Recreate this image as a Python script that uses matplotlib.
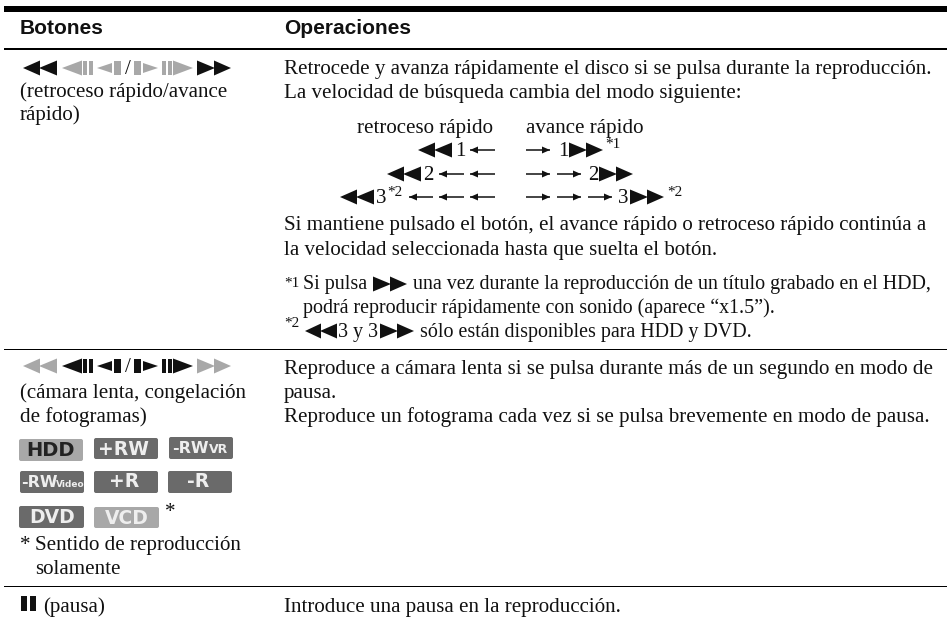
import matplotlib
matplotlib.use("Agg")
import matplotlib.pyplot as plt
from matplotlib.patches import FancyBboxPatch, Polygon, Rectangle

# Table text
HEADERS = ["Botones", "Operaciones"]
ROW1_LEFT = ["(retroceso rápido/avance", "rápido)"]
ROW1_INTRO = [
    "Retrocede y avanza rápidamente el disco si se pulsa durante la reproducción.",
    "La velocidad de búsqueda cambia del modo siguiente:",
]
SPEED_TITLES = ["retroceso rápido", "avance rápido"]
SPEED_STEPS = ["1", "2", "3"]
ROW1_HOLD = [
    "Si mantiene pulsado el botón, el avance rápido o retroceso rápido continúa a",
    "la velocidad seleccionada hasta que suelta el botón.",
]
NOTE1 = [
    "Si pulsa",
    "una vez durante la reproducción de un título grabado en el HDD,",
    "podrá reproducir rápidamente con sonido (aparece “x1.5”).",
]
NOTE2 = ["3 y 3", "sólo están disponibles para HDD y DVD."]
ROW2_LEFT = ["(cámara lenta, congelación", "de fotogramas)"]
ROW2_RIGHT = [
    "Reproduce a cámara lenta si se pulsa durante más de un segundo en modo de",
    "pausa.",
    "Reproduce un fotograma cada vez si se pulsa brevemente en modo de pausa.",
]
ROW2_NOTE = ["*", "Sentido de reproducción", "solamente"]
BADGE_ROWS = [["HDD", "+RW", "-RW", "VR"], ["-RW", "Video", "+R", "-R"], ["DVD", "VCD"]]
ROW3 = ["(pausa)", "Introduce una pausa en la reproducción."]

SERIF = "Liberation Serif"
SANS = "Liberation Sans"
BODY = 15.15
NOTE = 14.4
SUP = 11
BLACK = "#111111"
GREY = "#a8a8a8"
DARK = "#6a6a6a"

fig = plt.figure(figsize=(9.47, 6.2), dpi=100)
ax = fig.add_axes([0, 0, 1, 1])
ax.set_xlim(0, 947)
ax.set_ylim(620, 0)
ax.axis("off")


def txt(x, y, s, size=BODY, **kw):
    kw.setdefault("family", SERIF)
    kw.setdefault("color", BLACK)
    ax.text(x, y, s, fontsize=size, va="baseline", ha=kw.pop("ha", "left"), **kw)


def tri(x0, x1, cy, h, color=BLACK):
    # the point of the triangle sits at x1
    ax.add_patch(Polygon([(x0, cy - h / 2), (x0, cy + h / 2), (x1, cy)], color=color, lw=0))


def bar(x0, x1, cy, h, color=BLACK):
    ax.add_patch(Rectangle((x0, cy - h / 2), x1 - x0, h, color=color, lw=0))


def fast_back(x0, cy, color=BLACK, w=34, h=15):
    tri(x0 + w / 2, x0, cy, h, color)
    tri(x0 + w, x0 + w / 2 - 1, cy, h, color)


def fast_fwd(x0, cy, color=BLACK, w=34, h=15):
    tri(x0, x0 + w / 2 + 1, cy, h, color)
    tri(x0 + w / 2, x0 + w, cy, h, color)


def arrow(x0, x1, cy):
    ax.plot([x0, x1], [cy, cy], color=BLACK, lw=1.1, solid_capstyle="butt")
    if x1 > x0:
        tri(x1 - 8, x1, cy, 7)
    else:
        tri(x1 + 8, x1, cy, 7)


def icon_row(cy, outer, inner):
    fast_back(23, cy, outer)
    tri(82, 62, cy, 15, inner)
    bar(83, 87, cy, 14, inner)
    bar(89, 93, cy, 14, inner)
    tri(112, 97, cy, 10, inner)
    bar(114, 121, cy, 14, inner)
    txt(125, cy + 6, "/", size=BODY)
    bar(134, 141, cy, 14, inner)
    tri(143, 158, cy, 10, inner)
    bar(162, 166, cy, 14, inner)
    bar(168, 172, cy, 14, inner)
    tri(173, 193, cy, 15, inner)
    fast_fwd(197, cy, outer)


def badge(x0, x1, y0, y1, color):
    ax.add_patch(FancyBboxPatch((x0 + 2, y0 + 2), x1 - x0 - 4, y1 - y0 - 4,
                                boxstyle="round,pad=2,rounding_size=2", fc=color, ec="none"))


def badge_text(x, y, s, size=13.5, color="#eeeeee", ha="center"):
    txt(x, y, s, size=size, family="DejaVu Sans", weight="bold", color=color, ha=ha)


# Rules
ax.add_patch(Rectangle((4, 6), 943, 6, color="black", lw=0))
ax.add_patch(Rectangle((4, 48), 943, 2, color="black", lw=0))
ax.add_patch(Rectangle((4, 348.5), 943, 1.2, color="black", lw=0))
ax.add_patch(Rectangle((4, 585.5), 943, 1.2, color="black", lw=0))

# Header
txt(20, 34.5, HEADERS[0], size=15, family=SANS, weight="bold")
txt(284, 34.5, HEADERS[1], size=15, family=SANS, weight="bold")

# Row 1, left
icon_row(68, BLACK, GREY)
txt(20, 97, ROW1_LEFT[0])
txt(20, 120, ROW1_LEFT[1])

# Row 1, right
txt(284, 74, ROW1_INTRO[0])
txt(284, 98, ROW1_INTRO[1])
txt(357, 133, SPEED_TITLES[0])
txt(526, 133, SPEED_TITLES[1])

fast_back(418, 150)
txt(455, 156, SPEED_STEPS[0])
arrow(495, 470, 150)
arrow(526, 550, 150)
txt(558, 156, SPEED_STEPS[0])
fast_fwd(569, 150)
txt(605, 148, "*1", size=SUP)

fast_back(387, 174)
txt(423, 180, SPEED_STEPS[1])
arrow(464, 439, 174)
arrow(495, 470, 174)
arrow(526, 550, 174)
arrow(557, 581, 174)
txt(588, 180, SPEED_STEPS[1])
fast_fwd(599, 174)

fast_back(340, 197)
txt(376, 203, SPEED_STEPS[2])
txt(387, 196, "*2", size=SUP)
arrow(433, 409, 197)
arrow(464, 439, 197)
arrow(495, 470, 197)
arrow(526, 550, 197)
arrow(557, 581, 197)
arrow(588, 612, 197)
txt(618, 203, SPEED_STEPS[2])
fast_fwd(630, 197)
txt(667, 196, "*2", size=SUP)

txt(284, 230, ROW1_HOLD[0])
txt(284, 255, ROW1_HOLD[1])

# Footnotes
txt(284, 287, "*1", size=SUP)
txt(303, 289.5, NOTE1[0], size=NOTE)
fast_fwd(373, 284)
txt(413, 289.5, NOTE1[1], size=NOTE)
txt(303, 313, NOTE1[2], size=NOTE)
txt(284, 327, "*2", size=SUP)
fast_back(305, 331, w=32)
txt(338, 337, NOTE2[0], size=NOTE)
fast_fwd(380, 331)
txt(420, 337, NOTE2[1], size=NOTE)

# Row 2, left
icon_row(366, GREY, BLACK)
txt(20, 398, ROW2_LEFT[0])
txt(20, 422, ROW2_LEFT[1])

badge(19, 83, 439, 461, GREY)
badge_text(51, 456, BADGE_ROWS[0][0], color="#222222", size=14)
badge(94, 158, 438, 459, DARK)
badge_text(123, 455, BADGE_ROWS[0][1])
badge(169, 233, 437, 459, DARK)
badge_text(172, 453, BADGE_ROWS[0][2], size=11.5, ha="left")
badge_text(209, 453, BADGE_ROWS[0][3], size=9, ha="left")

badge(20, 84, 471, 493, DARK)
badge_text(21, 487, BADGE_ROWS[1][0], size=11.5, ha="left")
badge_text(56, 487, BADGE_ROWS[1][1], size=6.5, ha="left")
badge(94, 158, 471, 493, DARK)
badge_text(124, 487, BADGE_ROWS[1][2])
badge(168, 232, 471, 493, DARK)
badge_text(198, 487, BADGE_ROWS[1][3])

badge(19, 84, 506, 528, DARK)
badge_text(52, 523, BADGE_ROWS[2][0])
badge(94, 159, 507, 528, GREY)
badge_text(127, 524, BADGE_ROWS[2][1])
txt(165, 517, ROW2_NOTE[0])

txt(20, 550, ROW2_NOTE[0])
txt(35, 550, ROW2_NOTE[1])
txt(35, 574, ROW2_NOTE[2])

# Row 2, right
txt(284, 374, ROW2_RIGHT[0])
txt(284, 398, ROW2_RIGHT[1])
txt(284, 422, ROW2_RIGHT[2])

# Row 3
bar(21, 27, 603, 15)
bar(30, 36, 603, 15)
txt(43, 612, ROW3[0])
txt(284, 612, ROW3[1])

fig.savefig("out.png", dpi=100)
